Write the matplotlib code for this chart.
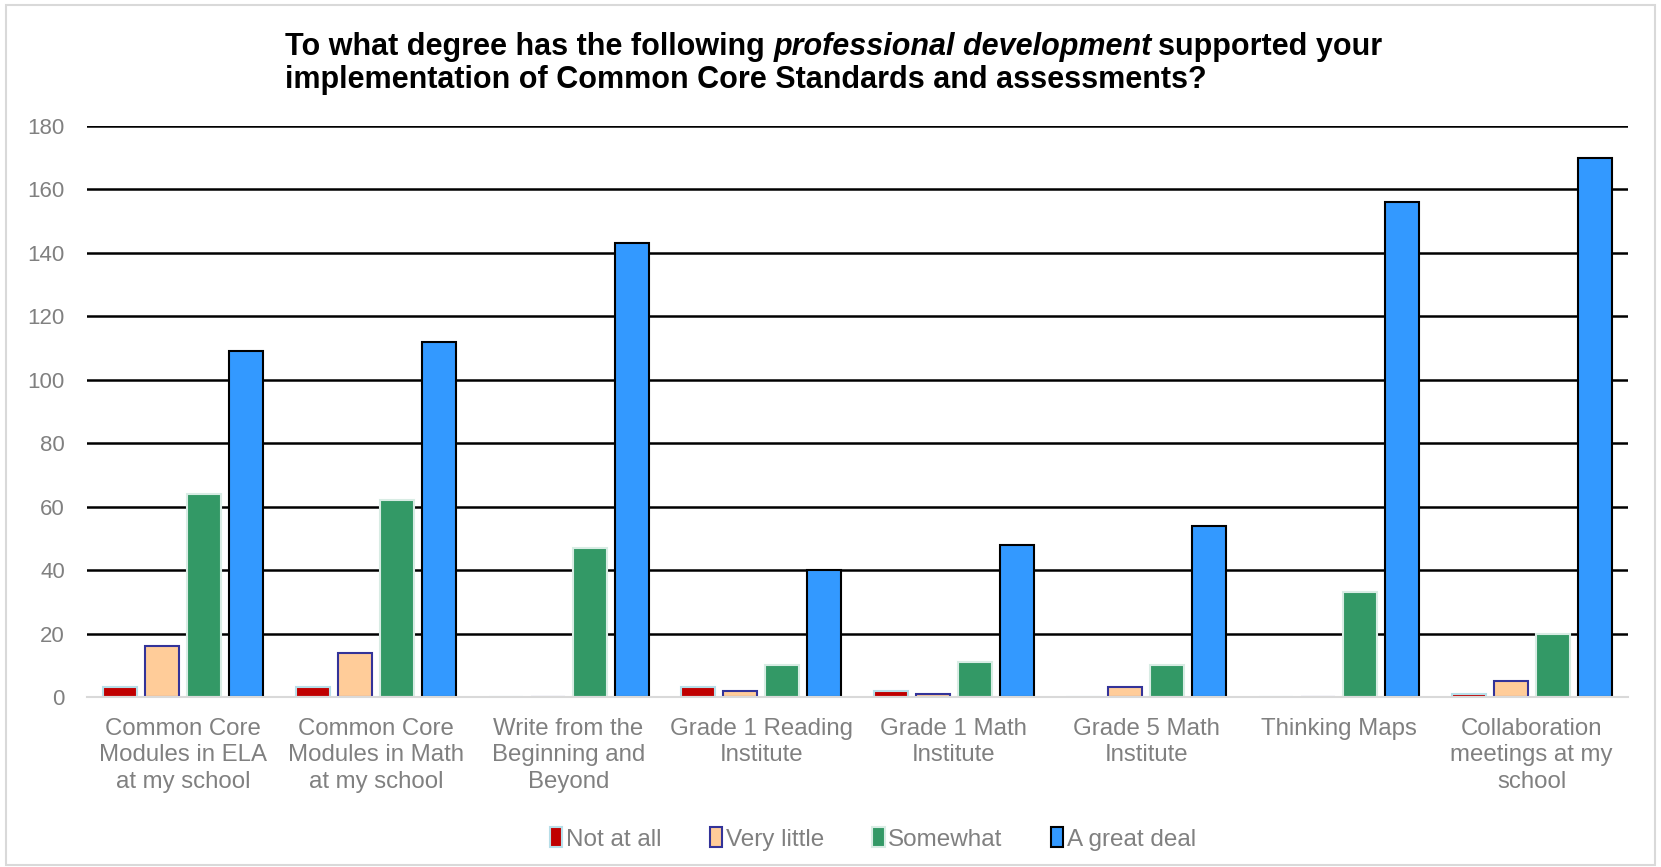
import numpy as np
import matplotlib
matplotlib.use("Agg")
import matplotlib.pyplot as plt
from matplotlib.patches import Rectangle

plt.rcParams['font.family'] = ['Liberation Sans', 'DejaVu Sans']

# categories and survey counts
categories = ["Common Core\nModules in ELA\nat my school",
              "Common Core\nModules in Math\nat my school",
              "Write from the\nBeginning and\nBeyond",
              "Grade 1 Reading\nInstitute",
              "Grade 1 Math\nInstitute",
              "Grade 5 Math\nInstitute",
              "Thinking Maps",
              "Collaboration\nmeetings at my\nschool"]
not_at_all = [3, 3, 0, 3, 2, 0, 0, 1]
very_little = [16, 14, 0, 2, 1, 3, 0, 5]
somewhat = [64, 62, 47, 10, 11, 10, 33, 20]
great_deal = [109, 112, 143, 40, 48, 54, 156, 170]

series = [("Not at all", not_at_all, "#C00000", "#B7DEE8"),
          ("Very little", very_little, "#FFCC99", "#333399"),
          ("Somewhat", somewhat, "#339966", "#D8ECE4"),
          ("A great deal", great_deal, "#3399FF", "#000000")]

fig = plt.figure(figsize=(16.61, 8.67), dpi=100)
ax = fig.add_axes([87/1661, 1 - 697/867, (1628-87)/1661, (697-126)/867])

x = np.arange(len(categories))
w = 0.176
pitch = 0.218
for i, (name, vals, col, ec) in enumerate(series):
    ax.bar(x + (i - 1.5) * pitch, vals, w, color=col, edgecolor=ec,
           linewidth=1.5, label=name, zorder=3)

ax.set_xlim(-0.5, len(categories) - 0.5)
ax.set_ylim(0, 180)
ax.set_yticks(range(0, 181, 20))
ax.yaxis.grid(True, color="black", linewidth=1.8, zorder=0)
ax.set_axisbelow(True)
for s in ["top", "right", "left"]:
    ax.spines[s].set_visible(False)
ax.spines["bottom"].set_color("#D9D9D9")
ax.spines["bottom"].set_linewidth(1.5)
ax.spines["bottom"].set_zorder(4)
ax.tick_params(axis="y", length=0, labelsize=16, labelcolor="#808080", pad=16)
ax.set_xticks(x)
ax.set_xticklabels(categories, linespacing=1.27)
ax.tick_params(axis="x", length=0, labelsize=17.3, labelcolor="#808080", pad=15)

# title with italic phrase, built piece by piece
tsize = 22
y1 = 1 - 55/867
y2 = 1 - 88/867
t1 = fig.text(285/1661, y1, "To what degree has the following ",
              fontsize=tsize, fontweight="bold", va="baseline")
fig.canvas.draw()
r = fig.canvas.get_renderer()
bb = t1.get_window_extent(r)
t2 = fig.text(bb.x1 / fig.bbox.width, y1, "professional development",
              fontsize=tsize, fontweight="bold", fontstyle="italic", va="baseline")
bb2 = t2.get_window_extent(r)
fig.text(bb2.x1 / fig.bbox.width + 0.004, y1, "supported your",
         fontsize=tsize, fontweight="bold", va="baseline")
fig.text(285/1661, y2,
         "implementation of Common Core Standards and assessments?",
         fontsize=tsize, fontweight="bold", va="baseline")

leg = fig.legend(loc="center", bbox_to_anchor=(873/1661, 1 - 839/867), ncol=4,
                 frameon=False, fontsize=17.5, handlelength=0.5, handleheight=0.85,
                 handletextpad=0.15, columnspacing=2.0)
for t in leg.get_texts():
    t.set_color("#808080")

fig.patches.append(Rectangle((6/1661, 0.002), 1649/1661, 1 - 5/867 - 0.002,
                             transform=fig.transFigure, fill=False,
                             edgecolor="#D9D9D9", linewidth=1.5))

fig.savefig("out.png", dpi=100)
